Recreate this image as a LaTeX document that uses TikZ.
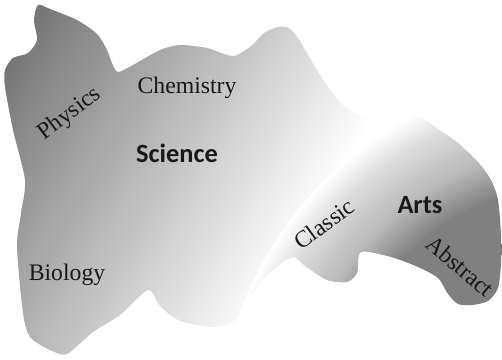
\documentclass[tikz,border=0pt]{standalone}
\usepackage{fontspec}
\setmainfont{Liberation Serif}
\newfontfamily\fieldfont{Carlito}

\definecolor{sciencedark}{gray}{0.405}
\definecolor{artsdark}{gray}{0.50}
\definecolor{artsmid}{gray}{0.72}
\definecolor{artslight}{gray}{0.86}
\definecolor{labelink}{gray}{0.10}

\pgfdeclareradialshading{artsglow}{\pgfpointorigin}{%
  color(0bp)=(artsdark); color(17.5bp)=(artsdark); color(20bp)=(artsmid);
  color(23bp)=(artslight); color(25bp)=(white); color(50bp)=(white)}

\tikzset{
  subject/.style={font=\fontsize{13.5}{16}\selectfont, text=labelink, inner sep=0pt},
  field/.style={font=\fieldfont\bfseries\fontsize{15}{18}\selectfont, text=labelink, inner sep=0pt}
}

% outline of the whole map, in pixel units
\def\mapoutline{plot[smooth cycle, tension=0.45] coordinates {
  (38,5) (50,9) (77,20) (97,34) (107,50) (112,63) (118,72) (133,65) (160,50)
  (180,45) (207,48) (233,56) (251,46) (264,33) (278,27) (289,28) (298,38)
  (311,60) (328,87) (344,106) (364,117) (391,117) (418,116) (438,129)
  (458,143) (478,162) (491,180) (498,200) (501,235) (501,263) (498,288)
  (488,301) (472,305) (458,304) (448,294) (438,278) (418,267) (391,257)
  (361,252) (357,273) (347,282) (327,280) (305,266) (293,257) (275,268)
  (260,283) (243,307) (233,322) (213,327) (180,321) (160,306) (148,290)
  (120,315) (93,332) (67,354) (50,350) (30,337) (23,313) (17,247) (21,213)
  (25,180) (13,130) (5,87) (5,70) (13,58) (28,53) (37,40) (34,20)}}

\begin{document}
\begin{tikzpicture}[x=0.02cm, y=-0.02cm]
    \useasboundingbox (0,0) rectangle (502,359);

    % white underneath, the fades run out into it
    \fill[white] \mapoutline;
    \begin{scope}
        \clip \mapoutline;
        % science side: grey on the left, white towards the ridge
        \begin{scope}[transform canvas={rotate around={-30:(0,0)}}]
            \shade[left color=sciencedark, right color=white] (0,-600) rectangle (382,900);
        \end{scope}
        % arts side: round glow, its rim is the ridge
        \clip (587,441) circle [radius=370];
        \shade[shading=artsglow] (587,441) circle [radius=370];
    \end{scope}

    % labels
    \node[field, anchor=base] (science) at (177,162) {Science};
    \node[field, anchor=base] (arts) at (420,213) {Arts};
    \node[subject, anchor=base] (chemistry) at (187,93) {Chemistry};
    \node[subject, anchor=base] (biology) at (67,280) {Biology};
    \node[subject, rotate=37] (physics) at (70,114) {Physics};
    \node[subject, rotate=36] (classic) at (324,224) {Classic};
    \node[subject, rotate=-40] (abstract) at (460,266) {Abstract};
\end{tikzpicture}
\end{document}
